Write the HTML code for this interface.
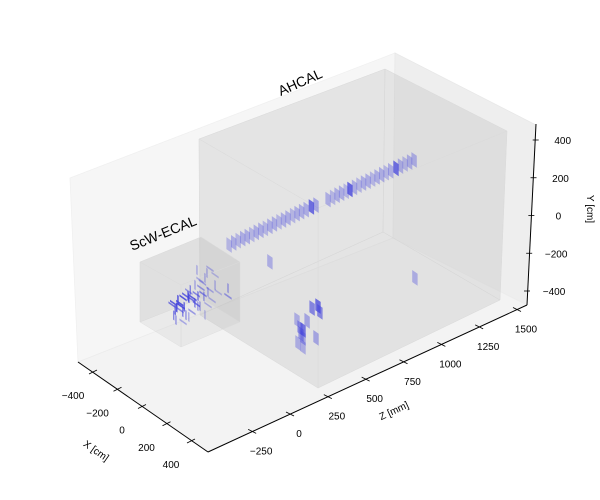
<!DOCTYPE html>
<html><head><meta charset="utf-8"><style>
html,body{margin:0;padding:0;background:#fff;}
svg{display:block;font-family:"Liberation Sans","DejaVu Sans",sans-serif;}
</style></head><body>
<svg id="chart" width="600" height="500" viewBox="0 0 600 500">
<g id="panes">
  <polygon points="70,178 395,53 393,238 78,362" fill="#f6f6f6" stroke="#f0f0f0" stroke-width="0.8"/>
  <polygon points="395,53 536,125 527,305 393,238" fill="#eeeeee" stroke="#e8e8e8" stroke-width="0.8"/>
  <polygon points="78,362 208,452 527,305 393,238" fill="#f3f3f3" stroke="#ececec" stroke-width="0.8"/>
</g>
<g id="ahcal" fill="#b8b8b8" fill-opacity="0.16" stroke="#dcdcdc" stroke-width="0.4">
  <polygon points="385,69 507,131 500,300 383,232"/>
  <polygon points="199,139 385,69 383,232 200,315"/>
  <polygon points="200,315 383,232 500,300 318,388"/>
  <polygon points="199,139 318,208 318,388 200,315"/>
  <polygon points="199,139 385,69 507,131 318,208"/>
  <polygon points="318,208 507,131 500,300 318,388"/>
</g>
<g id="ecal" fill="#b8b8b8" fill-opacity="0.18" stroke="#dcdcdc" stroke-width="0.4">
  <polygon points="201,237 240,262 240,322 201,298"/>
  <polygon points="140,262 201,237 201,298 140,322"/>
  <polygon points="140,262 201,237 240,262 181,285"/>
  <polygon points="140,262 181,285 181,347 140,322"/>
  <polygon points="181,285 240,262 240,322 181,347"/>
</g>
<g id="hits"></g>
<g id="axes" stroke="#000" stroke-width="1" fill="none">
  <line x1="78" y1="362" x2="208" y2="452"/>
  <line x1="208" y1="452" x2="527" y2="305"/>
  <line x1="536" y1="124" x2="527" y2="305"/>
</g>
<g id="ticks" font-size="10" fill="#000"></g>
<text x="300" y="87" font-size="14" text-anchor="middle" transform="rotate(-24 300 82)">AHCAL</text>
<text x="163" y="238" font-size="14" text-anchor="middle" transform="rotate(-22 163 233)">ScW-ECAL</text>
<text x="96" y="454" font-size="10" text-anchor="middle" transform="rotate(35 96 451)">X [cm]</text>
<text x="394" y="414" font-size="10" text-anchor="middle" transform="rotate(-25 394 411)">Z [mm]</text>
<text x="590" y="212" font-size="10" text-anchor="middle" transform="rotate(90 590 209)">Y [cm]</text>
</svg>
<script>
// ---- data ----
const xTicks = [-400, -200, 0, 200, 400];
const zTicks = [-250, 0, 250, 500, 750, 1000, 1250, 1500];
const yTicks = [400, 200, 0, -200, -400];
// AHCAL track hits (z in mm, y in cm)
const hcalZ = [270,300,330,360,390,420,450,480,510,540,570,600,630,660,690,720,750,780,815,845,925,955,985,1015,1045,1070,1100,1130,1160,1190,1220,1250,1280,1310,1340,1375,1405,1435,1465,1495];
const hcalY = [-34,-34,-33,-33,-34,-34,-33,-33,-34,-34,-33,-33,-34,-34,-33,-33,-34,-34,-33,-34,-34,-34,-33,-33,-34,-34,-34,-33,-33,-34,-34,-34,-33,-33,-34,-34,-33,-33,-34,-34];
const hcalE = [0.3,0.35,0.3,0.35,0.35,0.3,0.35,0.35,0.3,0.35,0.35,0.3,0.35,0.35,0.3,0.35,0.35,0.35,0.75,0.4,0.35,0.3,0.35,0.35,0.3,0.8,0.35,0.3,0.35,0.35,0.3,0.35,0.35,0.3,0.35,0.75,0.35,0.3,0.35,0.35];
// Other AHCAL hits
const isoX = [-250, 400, 300,300,300,300,300,300,300,300,300,300,300,300];
const isoY = [-224, -175, -311,-296,-236,-186,-253,-159,-163,-199,-328,-344,-215,-270];
const isoZ = [540, 973, 280,313,293,273,313,373,412,425,399,313,340,300];
const isoE = [0.35, 0.35, 0.35,0.4,0.45,0.35,0.7,0.6,0.75,0.6,0.4,0.35,0.4,0.5];
// ECAL strip hits
const ecalX = [0,0,0,0,0,0,0,0,0,0,0,0,0,0,0,0,0,0,0,150,150,0,0,0,0,0,0,0,0,0,0,0,0,0,0,0,0,0,0,0,0,0,0,0,0,0,0,0,0,0];
const ecalY = [-25,-13,-15,-17,-40,-42,-43,-44,-72,-113,-111,-100,-114,25,39,38,-38,-25,-71,40,-3,100,29,-115,-143,-159,-97,-60,-55,-30,-80,10,-5,60,-20,-50,-35,-65,-10,-90,-45,-70,5,-130,20,-85,-28,-58,75,-95];
const ecalZ = [-311,-272,-238,-205,-172,-139,-106,-73,-258,-219,-179,-126,-73,-159,-126,-93,-60,-26,-5,-62,-62,-146,-26,-285,-238,-93,-46,-290,-250,-200,-150,-190,-120,-80,-300,-280,-260,-230,-220,-240,-180,-160,-200,-200,-110,-300,-150,-100,-60,-140];
const ecalE = [0.7,0.9,0.9,0.8,0.85,0.7,0.6,0.4,0.6,0.5,0.5,0.45,0.35,0.4,0.35,0.35,0.4,0.35,0.3,0.5,0.5,0.35,0.3,0.5,0.4,0.3,0.35,0.8,0.9,0.9,0.7,0.6,0.5,0.35,0.85,0.9,0.9,0.7,0.8,0.6,0.7,0.6,0.5,0.4,0.4,0.6,0.6,0.5,0.35,0.45];

// ---- projection ----
const O = [219, 278.6];
function P(x, y, z) {
  return [O[0] + 0.1225 * x + 0.151 * z, O[1] + 0.085 * x - 0.1875 * y - 0.0694 * z];
}
const NS = 'http://www.w3.org/2000/svg';
const hitsG = document.getElementById('hits');
function quad(x, y, z, hx, hy, e, name) {
  const c = [P(x - hx, y - hy, z), P(x + hx, y - hy, z), P(x + hx, y + hy, z), P(x - hx, y + hy, z)];
  const p = document.createElementNS(NS, 'polygon');
  p.setAttribute('points', c.map(q => q[0].toFixed(1) + ',' + q[1].toFixed(1)).join(' '));
  p.setAttribute('fill', 'rgb(70,70,220)');
  p.setAttribute('fill-opacity', e);
  
  
  hitsG.appendChild(p);
}
for (let i = 0; i < hcalZ.length; i++) quad(-250, hcalY[i], hcalZ[i], 22, 32, hcalE[i], 'ahcal-track-hit');
for (let i = 0; i < isoZ.length; i++) quad(isoX[i], isoY[i], isoZ[i], 22, 32, isoE[i], 'ahcal-shower-hit');
for (let i = 0; i < ecalZ.length; i++) {
  if (i % 2 === 0) quad(ecalX[i], ecalY[i], ecalZ[i], 30, 5, ecalE[i], 'ecal-strip-hit');
  else quad(ecalX[i], ecalY[i], ecalZ[i], 6, 25, ecalE[i], 'ecal-strip-hit');
}

// ---- ticks ----
const tg = document.getElementById('ticks');
function lerp(a, b, t) { return a + (b - a) * t; }
function xScreen(v) { const t = (v + 400) / 800; return [lerp(93, 191, t), lerp(372, 441, t)]; }
function zScreen(v) { const t = v / 1500; return [lerp(290, 517, t), lerp(414, 309.5, t)]; }
function yScreen(v) { const t = (400 - v) / 800; return [lerp(535.7, 527, t), lerp(140, 291, t)]; }
function tick(p, dx1, dy1, dx2, dy2, name) {
  const l = document.createElementNS(NS, 'line');
  l.setAttribute('x1', p[0] + dx1); l.setAttribute('y1', p[1] + dy1);
  l.setAttribute('x2', p[0] + dx2); l.setAttribute('y2', p[1] + dy2);
  l.setAttribute('stroke', '#000'); l.setAttribute('stroke-width', '0.8');
  
  
  tg.appendChild(l);
}
function label(x, y, s, name) {
  const t = document.createElementNS(NS, 'text');
  t.setAttribute('x', x); t.setAttribute('y', y); t.setAttribute('text-anchor', 'middle');
  t.textContent = s;
  
  
  tg.appendChild(t);
}
xTicks.forEach(v => { const p = xScreen(v); tick(p, -4, 2, 4, -2, 'x-tick'); label(p[0] - 20, p[1] + 27, String(v).replace('-', '\u2212'), 'x-tick-label'); });
zTicks.forEach(v => { const p = zScreen(v); tick(p, -4, -2, 4, 2, 'z-tick'); label(p[0] + 9, p[1] + 23, String(v).replace('-', '\u2212'), 'z-tick-label'); });
yTicks.forEach(v => { const p = yScreen(v); tick(p, -3, 0, 3, 0, 'y-tick'); label(p[0] + 27, p[1] + 4, String(v).replace('-', '\u2212'), 'y-tick-label'); });
</script>
</body></html>
